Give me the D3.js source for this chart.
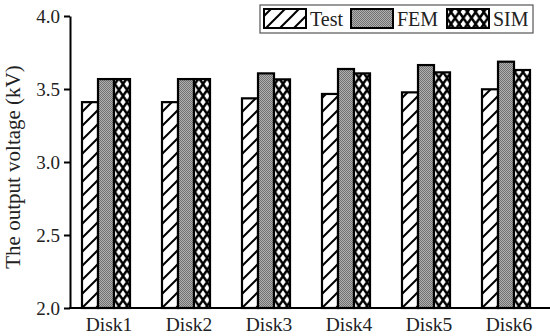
<!DOCTYPE html>
<html>
<head>
<meta charset="utf-8">
<script src="https://cdn.jsdelivr.net/npm/d3@7"></script>
<style>
  body { margin: 0; background: #fff; }
  svg { display: block; font-family: 'Liberation Serif', 'Times New Roman', serif; }
</style>
</head>
<body>
<svg id="chart" width="550" height="336"></svg>
<script>
const disks = ['Disk1', 'Disk2', 'Disk3', 'Disk4', 'Disk5', 'Disk6']
const seriesNames = ['Test', 'FEM', 'SIM']
const testValues = [3.41, 3.41, 3.436, 3.466, 3.477, 3.498]
const femValues = [3.568, 3.568, 3.607, 3.637, 3.664, 3.687]
const simValues = [3.568, 3.568, 3.566, 3.607, 3.614, 3.63]
const yTicks = [2.0, 2.5, 3.0, 3.5, 4.0]

const w = 550
const h = 336
const svg = d3.select('#chart')

// fill patterns
const defs = svg.append('defs')

const hatch = defs.append('pattern')
  .attr('id', 'p-test')
  .attr('patternUnits', 'userSpaceOnUse')
  .attr('width', 14).attr('height', 14)
hatch.append('rect').attr('width', 14).attr('height', 14).attr('fill', '#fff')
hatch.append('path')
  .attr('d', 'M-2,16 L16,-2 M-9,9 L9,-9 M5,23 L23,5')
  .attr('stroke', '#000').attr('stroke-width', 2)

const dots = defs.append('pattern')
  .attr('id', 'p-fem')
  .attr('patternUnits', 'userSpaceOnUse')
  .attr('width', 2).attr('height', 2)
dots.append('rect').attr('width', 2).attr('height', 2).attr('fill', '#b0b0b0')
dots.append('rect').attr('width', 1).attr('height', 1).attr('fill', '#727272')
dots.append('rect').attr('x', 1).attr('y', 1).attr('width', 1).attr('height', 1).attr('fill', '#727272')

// crosshatch, cell size close to the bar width / 2
const cw = 8.2
const ch = 12
const cross = defs.append('pattern')
  .attr('id', 'p-sim')
  .attr('patternUnits', 'userSpaceOnUse')
  .attr('width', cw).attr('height', ch)
cross.append('rect').attr('width', cw).attr('height', ch).attr('fill', '#fff')
cross.append('path')
  .attr('d', `M0,0 L${cw},${ch} M0,${ch} L${cw},0`)
  .attr('stroke', '#000').attr('stroke-width', 2.4)

const fills = { Test: 'url(#p-test)', FEM: 'url(#p-fem)', SIM: 'url(#p-sim)' }

const x = d3.scaleBand().domain(disks).range([66, 546]).paddingInner(0.4).paddingOuter(0.2)
const xSub = d3.scaleBand().domain(seriesNames).range([0, x.bandwidth()])
const y = d3.scaleLinear().domain([2, 4]).range([308, 16])

const rows = disks.map((d, i) => ({
  disk: d,
  values: [
    { name: 'Test', v: testValues[i] },
    { name: 'FEM', v: femValues[i] },
    { name: 'SIM', v: simValues[i] },
  ],
}))

svg.append('g')
  .selectAll('g')
  .data(rows)
  .join('g')
  .attr('transform', (d) => `translate(${x(d.disk)},0)`)
  .selectAll('rect')
  .data((d) => d.values)
  .join('rect')
  .attr('x', (d) => xSub(d.name))
  .attr('y', (d) => y(d.v))
  .attr('width', xSub.bandwidth())
  .attr('height', (d) => y(2) - y(d.v))
  .attr('fill', (d) => fills[d.name])
  .attr('stroke', '#000')
  .attr('stroke-width', 2.2)

// y axis
const yAxis = svg.append('g')
  .attr('transform', 'translate(70,0)')
  .call(d3.axisLeft(y).tickValues(yTicks).tickFormat(d3.format('.1f')).tickSize(6).tickSizeOuter(0))
yAxis.select('.domain').attr('stroke-width', 2)
yAxis.selectAll('.tick line').attr('stroke-width', 2)
yAxis.selectAll('.tick text')
  .attr('font-size', 19)
  .attr('font-family', "'Liberation Serif', serif")
  .attr('fill', '#222')
  .attr('x', -10)

// x axis
svg.append('line')
  .attr('x1', 69).attr('x2', 550)
  .attr('y1', y(2)).attr('y2', y(2))
  .attr('stroke', '#000').attr('stroke-width', 2)

svg.append('g')
  .selectAll('text')
  .data(disks)
  .join('text')
  .attr('x', (d) => x(d) + x.bandwidth() / 2 + 3)
  .attr('y', 331)
  .attr('text-anchor', 'middle')
  .attr('font-size', 19.5)
  .attr('fill', '#222')
  .text((d) => d)

svg.append('text')
  .attr('transform', `translate(20,${(y(2) + y(4)) / 2 + 5}) rotate(-90)`)
  .attr('text-anchor', 'middle')
  .attr('font-size', 21)
  .attr('fill', '#222')
  .text('The output voltage (kV)')

// legend
const legend = svg.append('g')
legend.append('rect')
  .attr('x', 260).attr('y', 5)
  .attr('width', 273).attr('height', 28)
  .attr('fill', '#fff')
  .attr('stroke', '#555').attr('stroke-width', 1.2)

const legendX = { Test: 264, FEM: 351, SIM: 447 }
legend.selectAll('rect.swatch')
  .data(seriesNames)
  .join('rect')
  .attr('class', 'swatch')
  .attr('x', (d) => legendX[d])
  .attr('y', 9)
  .attr('width', 42).attr('height', 19)
  .attr('fill', (d) => fills[d])
  .attr('stroke', '#000').attr('stroke-width', 2)

legend.selectAll('text')
  .data(seriesNames)
  .join('text')
  .attr('x', (d) => legendX[d] + 46)
  .attr('y', 26)
  .attr('font-size', 20)
  .attr('fill', '#222')
  .text((d) => d)
</script>
</body>
</html>
